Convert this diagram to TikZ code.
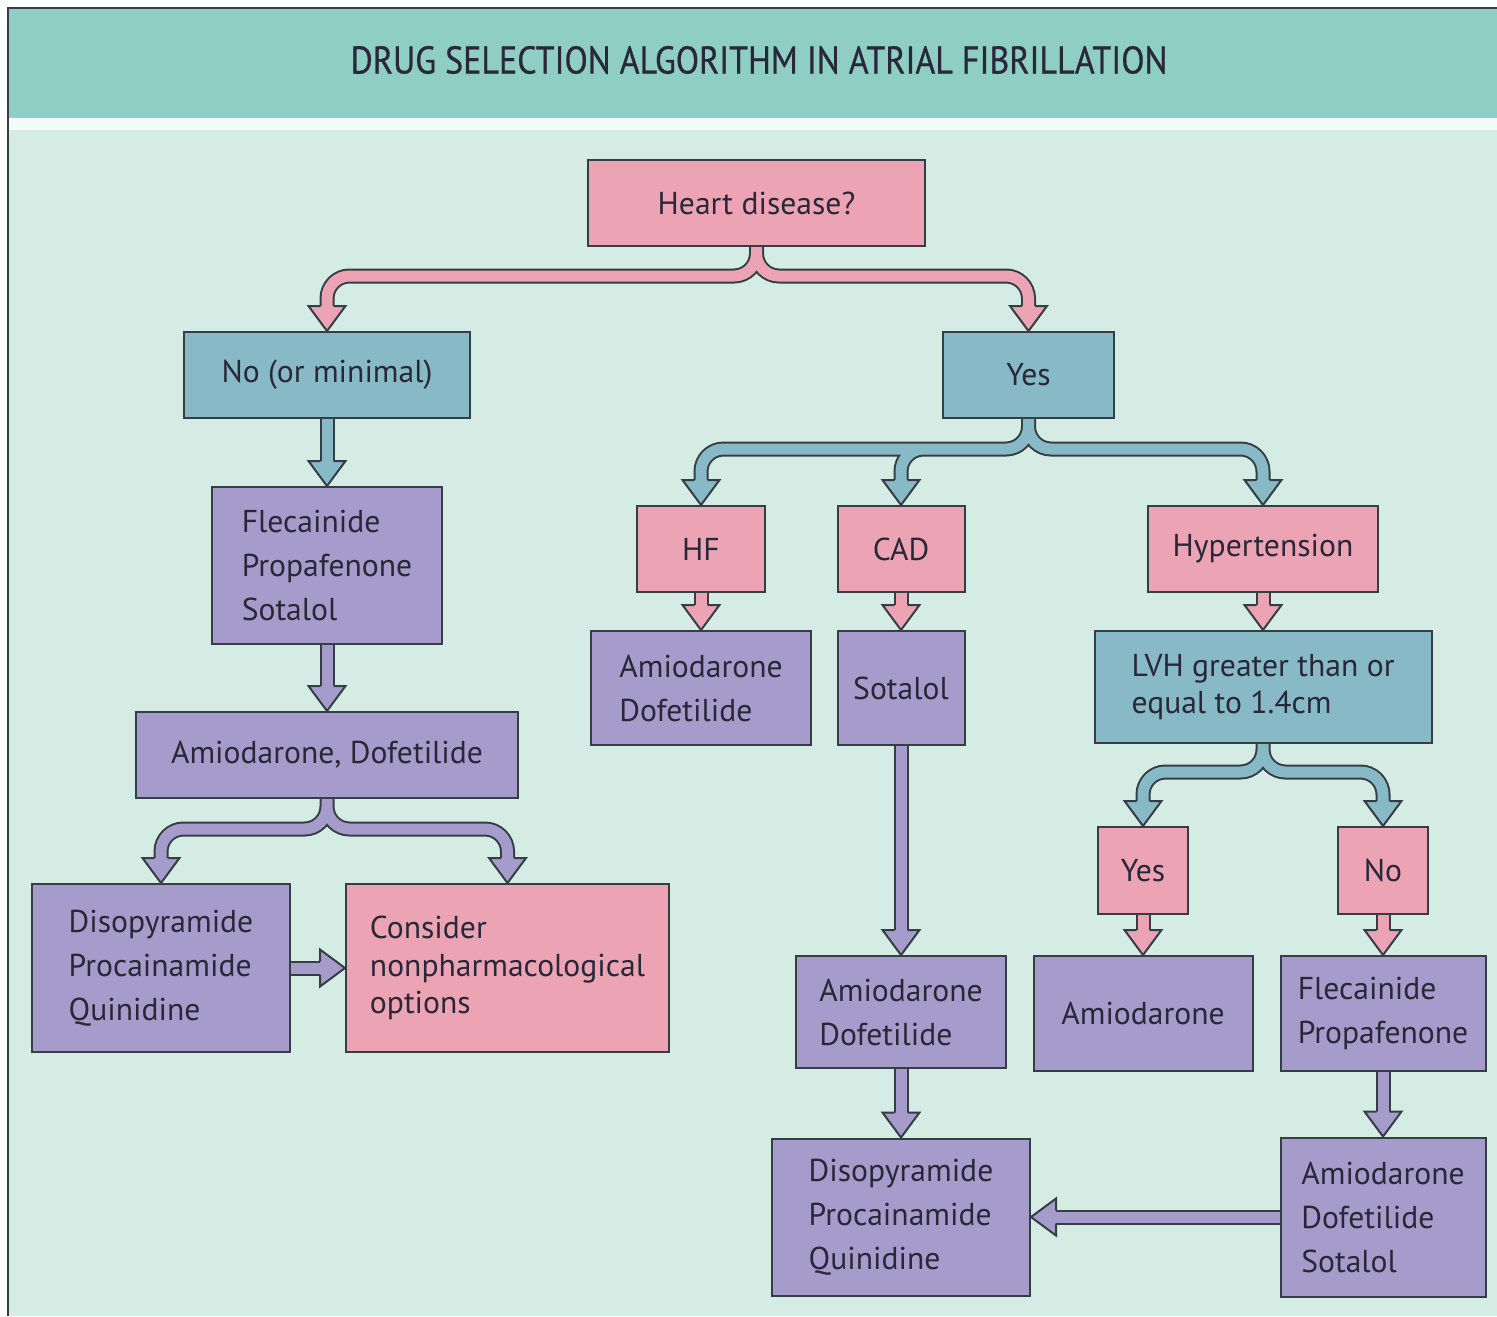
\documentclass[tikz,border=0pt]{standalone}
\usepackage{fontspec}
\setmainfont{PT Sans}
\newfontfamily\titlefont[FakeStretch=0.88, FakeBold=0.6]{PT Sans}
\usetikzlibrary{positioning}

\definecolor{headteal}{RGB}{142,206,196}
\definecolor{bodymint}{RGB}{213,236,229}
\definecolor{stripe}{RGB}{244,252,250}
\definecolor{pinkc}{RGB}{236,164,180}
\definecolor{bluec}{RGB}{135,185,198}
\definecolor{purplec}{RGB}{166,156,204}
\definecolor{edge}{RGB}{52,62,68}
\definecolor{txt}{RGB}{40,40,56}

\tikzset{
box/.style={draw=edge, line width=0.04cm, text=txt, align=left, inner sep=0pt,
  font=\fontsize{18}{25}\selectfont}, % every box of the chart
pinkbox/.style={box, fill=pinkc}, % questions
bluebox/.style={box, fill=bluec}, % answers
drugbox/.style={box, fill=purplec}, % drugs
sz/.style 2 args={minimum width=#1*0.02cm, minimum height=#2*0.02cm}, % size in pixels
tight/.style={font=\fontsize{18}{21.5}\selectfont}, % closer lines
fat/.style={draw=#1, line width=0.22cm, preaction={draw=edge, line width=0.3cm},
  rounded corners=0.45cm}, % broad outlined shaft
pics/head/.style={code={
  \fill[#1] (0,0) -- (-18.5,-25) -- (18.5,-25) -- cycle;
  \draw[edge, line width=0.04cm] (-6.5,-25) -- (-18.5,-25) -- (0,0) -- (18.5,-25) -- (6.5,-25);
}}, % arrow head, tip at the origin
}

\begin{document}
\begin{tikzpicture}[x=0.02cm, y=-0.02cm]
  \useasboundingbox (0,0) rectangle (1497,1316);
  % Background
  \fill[white] (0,0) rectangle (1497,1316);
  \fill[headteal] (8,8) rectangle (1497,118);
  \fill[stripe] (8,118) rectangle (1497,130);
  \fill[bodymint] (8,130) rectangle (1497,1316);
  \draw[edge, line width=0.04cm] (8,1316) -- (8,8) -- (1497,8);
  \node[text=txt, font=\titlefont\fontsize{22}{26}\selectfont] (title) at (759,60)
    {DRUG SELECTION ALGORITHM IN ATRIAL FIBRILLATION};

  % Boxes
  \node[pinkbox, sz={337}{86}] (heart) at (756.5,203) {Heart disease?};
  \node[bluebox, sz={286}{86}] (nomin) at (327,375) {No (or minimal)};
  \node[bluebox, sz={171}{86}] (yes) at (1028.5,375) {Yes};
  \node[drugbox, sz={230}{157}] (flec1) at (327,565.5) {Flecainide\\Propafenone\\Sotalol};
  \node[drugbox, sz={382}{86}] (amio1) at (327,755) {Amiodarone, Dofetilide};
  \node[drugbox, sz={258}{168}] (diso1) at (161,968) {Disopyramide\\Procainamide\\Quinidine};
  \node[pinkbox, tight, sz={323}{168}] (consider) at (507.5,968) {Consider\\nonpharmacological\\options};
  \node[pinkbox, sz={128}{86}] (hf) at (701,549) {HF};
  \node[pinkbox, sz={127}{86}] (cad) at (901,549) {CAD};
  \node[pinkbox, sz={230}{86}] (hyper) at (1263,549) {Hypertension};
  \node[drugbox, sz={220}{114}] (amio2) at (701,688) {Amiodarone\\Dofetilide};
  \node[drugbox, sz={127}{114}] (sotalol) at (901,688) {Sotalol};
  \node[bluebox, tight, sz={337}{112}] (lvh) at (1263,687) {LVH greater than or\\equal to 1.4cm};
  \node[pinkbox, sz={90}{87}] (lvhyes) at (1143,870.5) {Yes};
  \node[pinkbox, sz={90}{87}] (lvhno) at (1383,870.5) {No};
  \node[drugbox, sz={210}{112}] (amio3) at (901,1012) {Amiodarone\\Dofetilide};
  \node[drugbox, sz={219}{115}] (amio4) at (1143,1013.5) {Amiodarone};
  \node[drugbox, sz={205}{115}] (flec2) at (1383,1013.5) {Flecainide\\Propafenone};
  \node[drugbox, sz={258}{157}] (diso2) at (901,1217) {Disopyramide\\Procainamide\\Quinidine};
  \node[drugbox, sz={205}{159}] (amio5) at (1383,1217) {Amiodarone\\Dofetilide\\Sotalol};

  % Connectors
  \draw[fat=pinkc] (heart.south) -- ++(0,29) -| ([yshift=0.48cm]nomin.north)
    (heart.south) -- ++(0,29) -| ([yshift=0.48cm]yes.north);
  \draw[fat=bluec] (nomin.south) -- ([yshift=0.48cm]flec1.north);
  \draw[fat=purplec] (flec1.south) -- ([yshift=0.48cm]amio1.north);
  \draw[fat=purplec] (amio1.south) -- ++(0,30) -| ([yshift=0.48cm]diso1.north)
    (amio1.south) -- ++(0,30) -| ([yshift=0.48cm]consider.north);
  \draw[fat=purplec] (diso1.east) -- ([xshift=-0.48cm]consider.west);
  \draw[fat=bluec] (yes.south) -- ++(0,30) -| ([yshift=0.48cm]hf.north)
    (yes.south) -- ++(0,30) -| ([yshift=0.48cm]cad.north)
    (yes.south) -- ++(0,30) -| ([yshift=0.48cm]hyper.north);
  \draw[fat=pinkc] (hf.south) -- ([yshift=0.48cm]amio2.north);
  \draw[fat=pinkc] (cad.south) -- ([yshift=0.48cm]sotalol.north);
  \draw[fat=pinkc] (hyper.south) -- ([yshift=0.48cm]lvh.north);
  \draw[fat=purplec] (sotalol.south) -- ([yshift=0.48cm]amio3.north);
  \draw[fat=bluec] (lvh.south) -- ++(0,28) -| ([yshift=0.48cm]lvhyes.north)
    (lvh.south) -- ++(0,28) -| ([yshift=0.48cm]lvhno.north);
  \draw[fat=pinkc] (lvhyes.south) -- ([yshift=0.48cm]amio4.north);
  \draw[fat=pinkc] (lvhno.south) -- ([yshift=0.48cm]flec2.north);
  \draw[fat=purplec] (amio3.south) -- ([yshift=0.48cm]diso2.north);
  \draw[fat=purplec] (flec2.south) -- ([yshift=0.48cm]amio5.north);
  \draw[fat=purplec] (amio5.west) -- ([xshift=0.48cm]diso2.east);

  % Heads
  \foreach \n in {nomin, yes, amio2, sotalol, lvh, amio4, flec2}
    \pic at (\n.north) {head=pinkc};
  \foreach \n in {flec1, hf, cad, hyper, lvhyes, lvhno}
    \pic at (\n.north) {head=bluec};
  \foreach \n in {amio1, diso1, consider, amio3, diso2, amio5}
    \pic at (\n.north) {head=purplec};
  \pic[rotate=90] at (consider.west) {head=purplec};
  \pic[rotate=-90] at (diso2.east) {head=purplec};
\end{tikzpicture}
\end{document}
